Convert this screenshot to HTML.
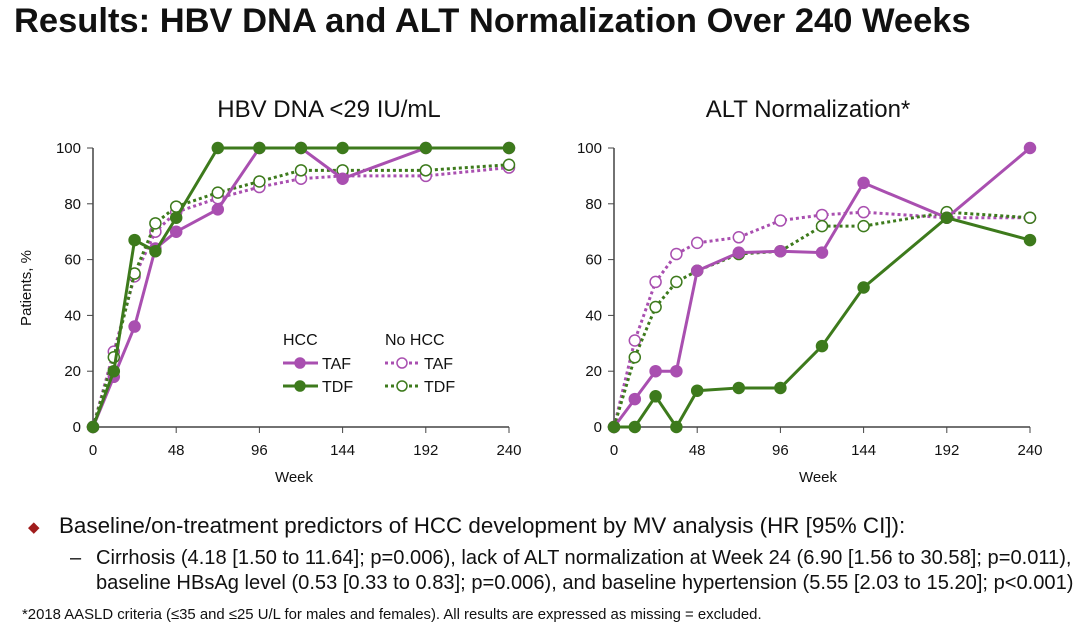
<!DOCTYPE html>
<html><head><meta charset="utf-8"><style>
body{margin:0;width:1080px;height:625px;background:#fff;overflow:hidden;font-family:"Liberation Sans",Arial,sans-serif;}
svg{position:absolute;left:0;top:0}
</style></head><body>
<svg id="s" width="1080" height="625">
<text x="14" y="32" font-size="34.5" font-weight="bold" fill="#111">Results: HBV DNA and ALT Normalization Over 240 Weeks</text>
<text x="329" y="117" font-size="24" text-anchor="middle" fill="#111">HBV DNA &lt;29 IU/mL</text>
<text x="808" y="117" font-size="24" text-anchor="middle" fill="#111">ALT Normalization*</text>
<text transform="translate(31,288) rotate(-90)" font-size="15" text-anchor="middle" fill="#111">Patients, %</text>
<text x="294" y="482" font-size="15" text-anchor="middle" fill="#111">Week</text>
<text x="818" y="482" font-size="15" text-anchor="middle" fill="#111">Week</text>
<g id="legend">
<text x="283" y="345" font-size="16" fill="#111">HCC</text>
<text x="385" y="345" font-size="16" fill="#111">No HCC</text>
</g>
<text x="28" y="532" font-size="15" fill="#a01c1c">◆</text>
<text x="59" y="533" font-size="22.4" fill="#111">Baseline/on-treatment predictors of HCC development by MV analysis (HR [95% CI]):</text>
<text x="70" y="564" font-size="20" fill="#111">–</text>
<text x="96" y="564" font-size="20.1" fill="#111">Cirrhosis (4.18 [1.50 to 11.64]; p=0.006), lack of ALT normalization at Week 24 (6.90 [1.56 to 30.58]; p=0.011),</text>
<text x="96" y="589" font-size="20.1" fill="#111">baseline HBsAg level (0.53 [0.33 to 0.83]; p=0.006), and baseline hypertension (5.55 [2.03 to 15.20]; p&lt;0.001)</text>
<text x="22" y="619" font-size="14.9" fill="#111">*2018 AASLD criteria (≤35 and ≤25 U/L for males and females).  All results are expressed as missing = excluded.</text>
</svg>
<script>
const weeks=[0,12,24,36,48,72,96,120,144,192,240];
const xTicks=[0,48,96,144,192,240];
const yTicks=[0,20,40,60,80,100];
const dnaTafHcc=[0,18,36,64,70,78,100,100,89,100,100];
const dnaTdfHcc=[0,20,67,63,75,100,100,100,100,100,100];
const dnaTafNo=[0,27,54,70,77,82,86,89,90,90,93];
const dnaTdfNo=[0,25,55,73,79,84,88,92,92,92,94];
const altTafHcc=[0,10,20,20,56,62.5,63,62.5,87.5,75,100];
const altTdfHcc=[0,0,11,0,13,14,14,29,50,75,67];
const altTafNo=[0,31,52,62,66,68,74,76,77,75,75];
const altTdfNo=[0,25,43,52,56,62,63,72,72,77,75];
const P='#a94fb0',G='#3d7a1c';
const s=document.getElementById('s');const NS='http://www.w3.org/2000/svg';
function mk(t,a,p){const e=document.createElementNS(NS,t);for(const k in a)e.setAttribute(k,a[k]);(p||s).appendChild(e);return e;}
function chart(x0,name,series){
 const g=mk('g',{});
 
 
 const X=v=>x0+v*416/240, Y=v=>427-v*2.79;
 const ax=mk('path',{d:`M${x0} ${Y(100)}V427H${X(240)}`,stroke:'#444',fill:'none','stroke-width':1.5},g);
 
 
 yTicks.forEach(v=>{mk('line',{x1:x0-6,x2:x0,y1:Y(v),y2:Y(v),stroke:'#444'},g);
  const t=mk('text',{x:x0-12,y:Y(v)+5,'font-size':15,'text-anchor':'end',fill:'#111'},g);t.textContent=v;
  
  });
 xTicks.forEach(v=>{mk('line',{x1:X(v),x2:X(v),y1:427,y2:433,stroke:'#444'},g);
  const t=mk('text',{x:X(v),y:455,'font-size':15,'text-anchor':'middle',fill:'#111'},g);t.textContent=v;
  
  });
 series.forEach(([d,c,open,nm])=>{
  const pl=mk('polyline',{points:d.map((v,i)=>X(weeks[i])+','+Y(v)).join(' '),fill:'none',stroke:c,'stroke-width':3,'stroke-dasharray':open?'3 3':'none'},g);
  
  
  d.forEach((v,i)=>{const ci=mk('circle',{cx:X(weeks[i]),cy:Y(v),r:5.5,fill:open?'#fff':c,stroke:c,'stroke-width':1.5},g);
   
   });
 });
}
chart(93,'hbv-dna-chart',[[dnaTafNo,P,1,'taf-no-hcc'],[dnaTdfNo,G,1,'tdf-no-hcc'],[dnaTafHcc,P,0,'taf-hcc'],[dnaTdfHcc,G,0,'tdf-hcc']]);
chart(614,'alt-chart',[[altTafNo,P,1,'taf-no-hcc'],[altTdfNo,G,1,'tdf-no-hcc'],[altTafHcc,P,0,'taf-hcc'],[altTdfHcc,G,0,'tdf-hcc']]);
const lg=document.getElementById('legend');
[[283,363,P,0,'TAF'],[283,386,G,0,'TDF'],[385,363,P,1,'TAF'],[385,386,G,1,'TDF']].forEach(([x,y,c,o,l])=>{
 mk('line',{x1:x,x2:x+35,y1:y,y2:y,stroke:c,'stroke-width':3,'stroke-dasharray':o?'3 3':'none'},lg);
 const ci=mk('circle',{cx:x+17,cy:y,r:5,fill:o?'#fff':c,stroke:c,'stroke-width':1.5},lg);
 
 
 const t=mk('text',{x:x+39,y:y+6,'font-size':16,fill:'#111'},lg);t.textContent=l;
 
 
});
</script>
</body></html>
